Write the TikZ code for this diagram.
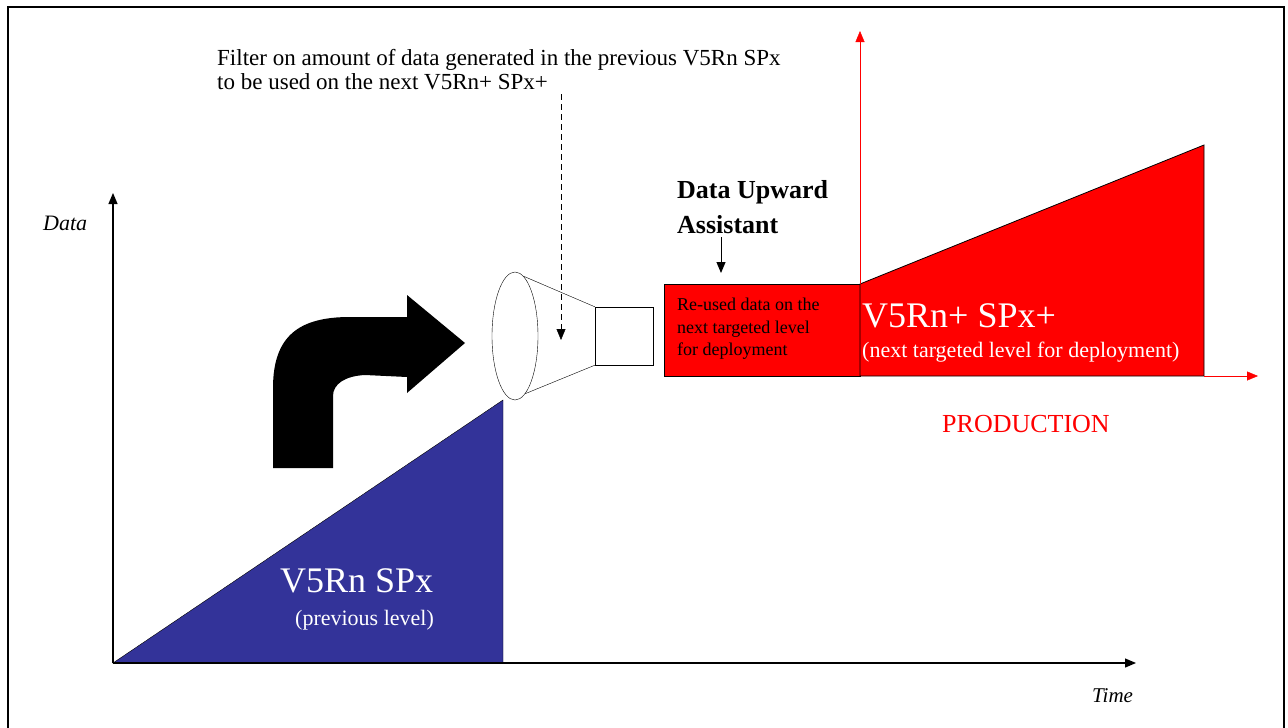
\documentclass[tikz,border=0pt]{standalone}
\usepackage{fontspec}
\setmainfont{Liberation Serif}
\usetikzlibrary{positioning, arrows.meta, shapes.geometric}
\definecolor{prevblue}{HTML}{333399}
\definecolor{nextred}{HTML}{FF0000}

\begin{document}
\begin{tikzpicture}[x=1pt, y=-1pt,
    axis/.style={line width=1.2pt, -{Triangle[length=11pt, width=9pt]}},
    redaxis/.style={draw=nextred, -{Triangle[length=11pt, width=9pt]}},
    txt/.style={inner sep=0pt, anchor=base west}]
    \useasboundingbox (0,0) rectangle (1288,728);
    \draw [line width=1.5pt] (8,728) -- (8,7) -- (1284,7) -- (1284,728);

    % previous level
    \filldraw [fill=prevblue, draw=black] (113,663) -- (503,400) -- (503,663) -- cycle;
    \node (prevA) [txt, text=white, font=\fontsize{36}{40}\selectfont] at (280,592) {V5Rn SPx};
    \node (prevB) [txt, text=white, font=\fontsize{22}{24}\selectfont] at (295,625) {(previous level)};

    % axes
    \coordinate (origin) at (113,663);
    \draw [axis] (origin) -- (113,193);
    \draw [axis] (origin) -- (1136,663);
    \node (data) [txt, font=\itshape\fontsize{22}{24}\selectfont] at (43,230) {Data};
    \node (time) [txt, font=\itshape\fontsize{21}{24}\selectfont] at (1092,702) {Time};

    % bent arrow
    \fill (273,468) -- (273,388) .. controls (273,335) and (300,317) .. (350,317) -- (407,317)
        -- (407,295) -- (465,343) -- (407,393) -- (407,377) -- (365,375)
        .. controls (345,376) and (333,384) .. (333,396) -- (333,468) -- cycle;

    % filter
    \node (cone) [draw, ellipse, inner sep=0pt, minimum width=46pt, minimum height=128pt] at (515,336) {};
    \node (nozzle) [draw, rectangle, inner sep=0pt, minimum width=58pt, minimum height=58pt] at (624,336) {};
    \draw (cone.82) -- (nozzle.north west);
    \draw (cone.-80) -- (nozzle.south west);
    \node (filterA) [txt, font=\fontsize{23}{24}\selectfont] at (217,65) {Filter on amount of data generated in the previous V5Rn SPx};
    \node (filterB) [txt, font=\fontsize{23}{24}\selectfont] at (217,89) {to be used on the next V5Rn+ SPx+};
    \coordinate (dashtop) at (561,94);
    \coordinate (dashend) at (561,340);
    \draw [dashed, dash pattern=on 6pt off 4pt, -{Triangle[length=11pt, width=9pt]}] (dashtop) -- (dashend);

    % next level
    \filldraw [fill=nextred, draw=black, thick] (664,284) rectangle (860,376);
    \filldraw [fill=nextred, draw=black, thick] (860,284) -- (1204,145) -- (1204,376) -- (860,376) -- cycle;
    \draw [redaxis] (860,284) -- (860,31);
    \draw [redaxis] (1204,376) -- (1258,376);
    \node (reA) [txt, font=\fontsize{18}{22}\selectfont] at (677,310) {Re-used data on the};
    \node (reB) [txt, font=\fontsize{18}{22}\selectfont] at (677,333) {next targeted level};
    \node (reC) [txt, font=\fontsize{18}{22}\selectfont] at (677,355) {for deployment};
    \node (nextA) [txt, text=white, font=\fontsize{36}{40}\selectfont] at (862,327) {V5Rn+ SPx+};
    \node (nextB) [txt, text=white, font=\fontsize{22}{24}\selectfont] at (862,357) {(next targeted level for deployment)};
    \node (prodn) [inner sep=0pt, anchor=base, text=nextred, font=\fontsize{26}{28}\selectfont] at (1026,432) {PRODUCTION};

    % assistant
    \node (duaA) [txt, font=\bfseries\fontsize{26}{30}\selectfont] at (677,198) {Data Upward};
    \node (duaB) [txt, font=\bfseries\fontsize{26}{30}\selectfont] at (677,233) {Assistant};
    \coordinate (duatip) at (721,273);
    \draw [line width=1pt, -{Triangle[length=11pt, width=9pt]}] (duaB.south -| duatip) ++(0,4) -- (duatip);
\end{tikzpicture}
\end{document}
